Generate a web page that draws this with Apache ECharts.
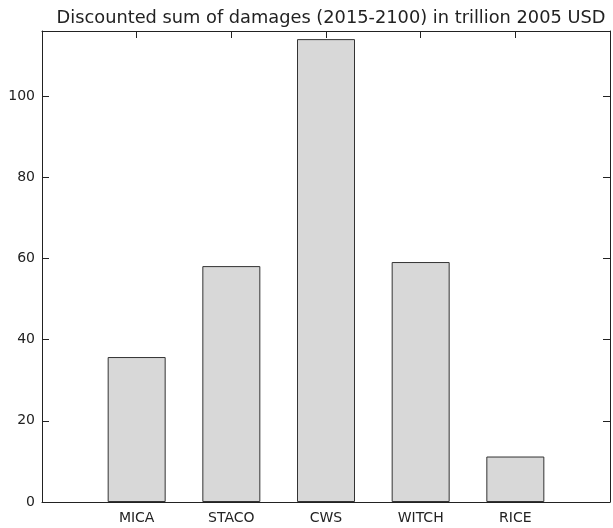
<!DOCTYPE html>
<html>
<head>
<meta charset="utf-8">
<script src="https://cdn.jsdelivr.net/npm/echarts@6/dist/echarts.min.js"></script>
<style>
  html, body { margin: 0; padding: 0; background: #fff; }
  #chart { width: 613px; height: 528px; }
</style>
</head>
<body>
<div id="chart"></div>
<script>
// Models and their discounted damages (trillion 2005 USD)
const models = ['MICA', 'STACO', 'CWS', 'WITCH', 'RICE'];
const damages = [35.7, 58.1, 114.0, 59.1, 11.2];
const yTicks = [0, 20, 40, 60, 80, 100];

// Empty slots at both ends give the padding either side of the bars
const cats = [''].concat(models, ['']);
const barData = [null].concat(damages, [null]);

const font = 'DejaVu Sans';
const lineCol = '#222';

const chart = echarts.init(document.getElementById('chart'), null, { renderer: 'canvas' });

const xBase = {
  type: 'category',
  data: cats,
  boundaryGap: false,
  axisLine: { show: true, onZero: false, lineStyle: { color: lineCol, width: 1 } },
  axisTick: { show: true, inside: true, length: 7, lineStyle: { color: lineCol } },
  splitLine: { show: false }
};
const yBase = {
  type: 'value',
  min: 0,
  max: 116,
  interval: 20,
  axisLine: { show: true, lineStyle: { color: lineCol, width: 1 } },
  axisTick: { show: true, inside: true, length: 7, lineStyle: { color: lineCol } },
  splitLine: { show: false }
};

chart.setOption({
  animation: false,
  backgroundColor: '#fff',
  title: {
    text: 'Discounted sum of damages (2015-2100) in trillion 2005 USD',
    left: 326,
    textAlign: 'center',
    top: 4,
    textStyle: { fontFamily: font, fontSize: 17.8, fontWeight: 'normal', color: '#222' }
  },
  grid: { left: 42, right: 0, top: 31, bottom: 26, containLabel: false },
  xAxis: [
    Object.assign({}, xBase, {
      position: 'bottom',
      axisLabel: { show: true, margin: 9, fontFamily: font, fontSize: 14, color: '#222' }
    }),
    Object.assign({}, xBase, { position: 'top', axisLabel: { show: false } })
  ],
  yAxis: [
    Object.assign({}, yBase, {
      position: 'left',
      axisLabel: { show: true, margin: 7, fontFamily: font, fontSize: 14, color: '#222',
        formatter: v => (yTicks.indexOf(v) >= 0 ? String(v) : '') }
    }),
    Object.assign({}, yBase, { position: 'right', axisLabel: { show: false } })
  ],
  series: [{
    type: 'bar',
    data: barData,
    barWidth: 58,
    itemStyle: { color: '#d8d8d8', borderColor: '#333', borderWidth: 1 },
    silent: true
  }]
});
</script>
</body>
</html>
